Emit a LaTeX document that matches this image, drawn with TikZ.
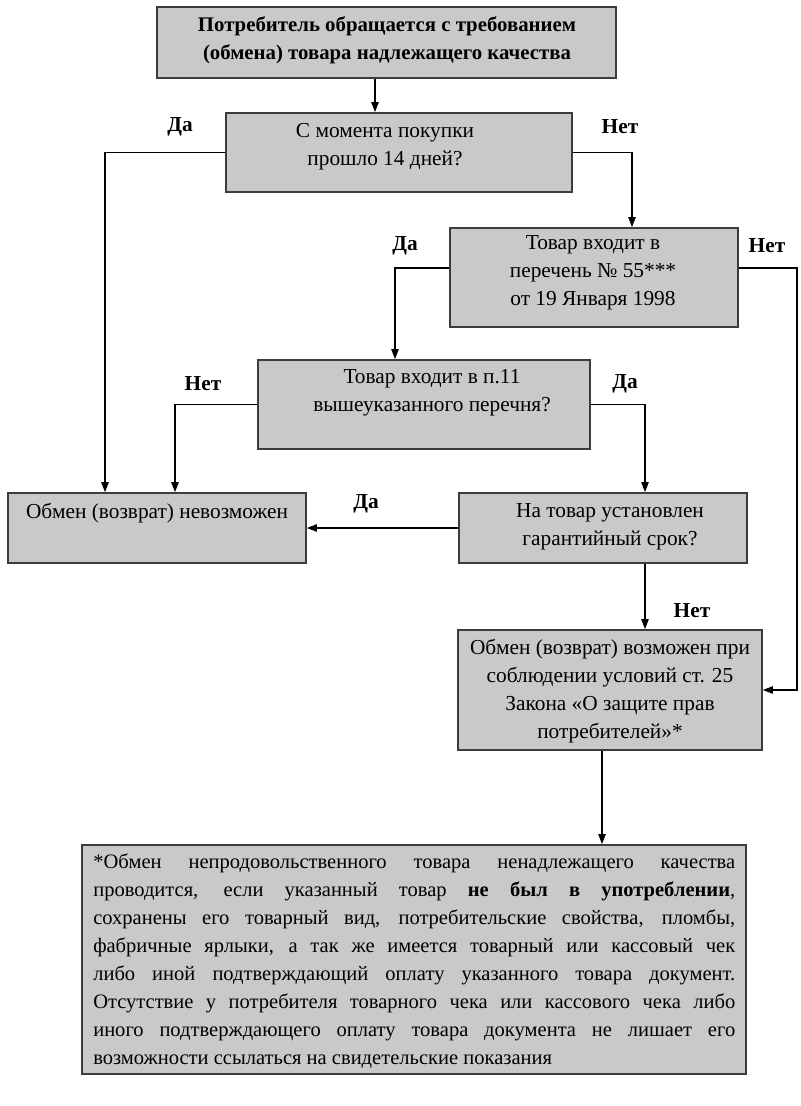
\documentclass[tikz,border=0pt]{standalone}
\usepackage{fontspec}
\setmainfont{Liberation Serif}
\usetikzlibrary{arrows.meta}
\definecolor{boxfill}{RGB}{201,201,201}
\definecolor{boxdraw}{RGB}{60,60,60}
\tikzset{
  box/.style={draw=boxdraw, fill=boxfill, line width=1.3pt, rectangle, inner sep=0pt},
  txt/.style={align=center, font=\fontsize{16}{21}\selectfont, inner sep=0pt},
  lbl/.style={font=\fontsize{16}{21}\selectfont\bfseries, inner sep=0pt},
  arr/.style={line width=1pt, -{Triangle[length=7.5pt,width=5.5pt]}}
}
\begin{document}
\begin{tikzpicture}[x=0.75pt,y=-0.75pt]
\useasboundingbox[fill=white] (0,0) rectangle (800,1106);
% column / row helpers
\coordinate (x375) at (375,0);
\coordinate (x105) at (105,0);
\coordinate (x632) at (632,0);
\coordinate (x395) at (395,0);
\coordinate (x797) at (797,0);
\coordinate (x175) at (175,0);
\coordinate (x645) at (645,0);
\coordinate (x602) at (602,0);
\coordinate (y268) at (0,268);
% boxes
\node[box, minimum width=459*0.75pt, minimum height=71*0.75pt] (b1) at (386.5,42.5) {};
\node[box, minimum width=346*0.75pt, minimum height=79*0.75pt] (b2) at (399,152.5) {};
\node[box, minimum width=288*0.75pt, minimum height=99*0.75pt] (b3) at (594,277.5) {};
\node[box, minimum width=332*0.75pt, minimum height=89*0.75pt] (b4) at (424,404.5) {};
\node[box, minimum width=298*0.75pt, minimum height=70*0.75pt] (b5) at (157,528) {};
\node[box, minimum width=288*0.75pt, minimum height=70*0.75pt] (b6) at (603,528) {};
\node[box, minimum width=304*0.75pt, minimum height=120*0.75pt] (b7) at (610,690) {};
\node[box, minimum width=664*0.75pt, minimum height=229*0.75pt] (b8) at (414,959.5) {};
% texts
\node[txt, font=\fontsize{15.6}{21}\selectfont\bfseries] (t1) at (387,40) {Потребитель обращается с требованием\\(обмена) товара надлежащего качества};
\node[txt] (t2) at (385,147) {С момента покупки\\прошло 14 дней?};
\node[txt] (t3) at (593,273) {Товар входит в\\перечень № 55***\\от 19 Января 1998};
\node[txt] (t4) at (432,393) {Товар входит в п.11\\вышеуказанного перечня?};
\node[txt] (t5) at (157,513) {Обмен (возврат) невозможен};
\node[txt] (t6) at (610,527) {На товар установлен\\гарантийный срок?};
\node[txt] (t7) at (610,691) {Обмен (возврат) возможен при\\соблюдении условий ст. 25\\Закона «О защите прав\\потребителей»*};
\node[inner sep=0pt, align=justify, text width=481.5pt, anchor=north west,
      font=\fontsize{15.4}{21}\selectfont] (t8) at (93,854) {%
*Обмен непродовольственного товара ненадлежащего качества\linebreak
проводится, если указанный товар \textbf{не был в употреблении},\linebreak
сохранены его товарный вид, потребительские свойства, пломбы,\linebreak
фабричные ярлыки, а так же имеется товарный или кассовый чек\linebreak
либо иной подтверждающий оплату указанного товара документ.\linebreak
Отсутствие у потребителя товарного чека или кассового чека либо\linebreak
иного подтверждающего оплату товара документа не лишает его\linebreak
возможности ссылаться на свидетельские показания};
% labels
\node[lbl] (l1) at (180,127) {Да};
\node[lbl] (l2) at (620,127) {Нет};
\node[lbl] (l3) at (405,246) {Да};
\node[lbl] (l4) at (767,246) {Нет};
\node[lbl] (l5) at (203,384) {Нет};
\node[lbl] (l6) at (625,384) {Да};
\node[lbl] (l7) at (366,504) {Да};
\node[lbl] (l8) at (692,611) {Нет};
% connectors
\draw[arr] (b1.south -| x375) -- (b2.north -| x375);
\draw[arr] (b2.west) -| (b5.north -| x105);
\draw[arr] (b2.east) -| (b3.north -| x632);
\draw[arr] (b3.west |- y268) -| (b4.north -| x395);
\draw[arr] (b3.east |- y268) -| (x797 |- b7.east) -- (b7.east);
\draw[arr] (b4.west) -| (b5.north -| x175);
\draw[arr] (b4.east) -| (b6.north -| x645);
\draw[arr] (b6.west) -- (b5.east);
\draw[arr] (b6.south -| x645) -- (b7.north -| x645);
\draw[arr] (b7.south -| x602) -- (b8.north -| x602);
\end{tikzpicture}
\end{document}
